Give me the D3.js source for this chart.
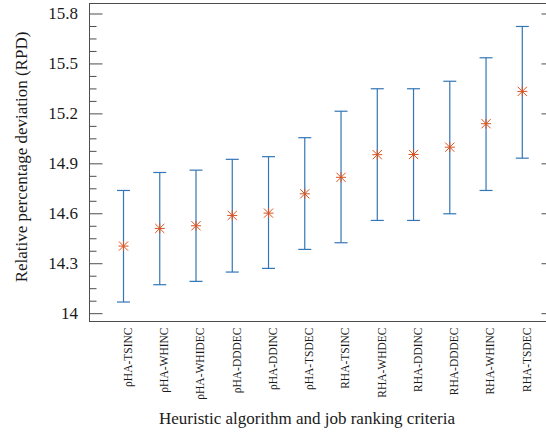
<!DOCTYPE html>
<html>
<head>
<meta charset="utf-8">
<script src="https://cdn.jsdelivr.net/npm/d3@7/dist/d3.min.js"></script>
<style>
  html, body { margin: 0; padding: 0; background: #fff; }
  svg { display: block; }
</style>
</head>
<body>
<svg id="chart" width="546" height="435"></svg>
<script>
// Heuristic / ranking-criterion combinations
const categories = [
  "ρHA-TSINC", "ρHA-WHINC", "ρHA-WHIDEC", "ρHA-DDDEC", "ρHA-DDINC", "ρHA-TSDEC",
  "RHA-TSINC", "RHA-WHDEC", "RHA-DDINC", "RHA-DDDEC", "RHA-WHINC", "RHA-TSDEC"
];
// Mean RPD and the interval bounds for each combination
const means = [14.403, 14.509, 14.525, 14.587, 14.601, 14.717, 14.816, 14.952, 14.953, 14.997, 15.138, 15.332];
const lower = [14.067, 14.171, 14.191, 14.247, 14.269, 14.383, 14.423, 14.557, 14.557, 14.597, 14.737, 14.931];
const upper = [14.737, 14.845, 14.859, 14.924, 14.940, 15.054, 15.213, 15.348, 15.348, 15.393, 15.534, 15.722];
// Y axis
const yTicks = [14, 14.3, 14.6, 14.9, 15.2, 15.5, 15.8];
const yTickLabels = ["14", "14.3", "14.6", "14.9", "15.2", "15.5", "15.8"];
const yMinorStep = 0.075;
const yDomain = [13.95, 15.86];

const FONT = "Liberation Serif";
const svg = d3.select("#chart").attr("font-family", FONT);
const box = { left: 89.5, right: 554.5, top: 3.5, bottom: 321.5 };

const x = d3.scalePoint()
  .domain(categories)
  .range([box.left + 34, box.right - 32.2]);

const y = d3.scaleLinear()
  .domain(yDomain)
  .range([box.bottom, box.top]);

const axisColor = "#4d4d4d";
const textColor = "#1a1a1a";
const barColor = "#3476b6";
const markColor = "#d9531e";

// Minor ticks (every 0.075) on the left and right edges
const minor = d3.range(0, 40).map(k => +(14 + k * yMinorStep).toFixed(3))
  .filter(v => v <= yDomain[1] && !yTicks.some(t => Math.abs(t - v) < 1e-6));

const leftAxis = d3.axisRight(y).tickValues(yTicks).tickSize(13).tickFormat("");
const leftMinor = d3.axisRight(y).tickValues(minor).tickSize(7).tickFormat("");
const rightAxis = d3.axisLeft(y).tickValues(yTicks).tickSize(13).tickFormat("");
const rightMinor = d3.axisLeft(y).tickValues(minor).tickSize(7).tickFormat("");

function styleAxis(g) {
  g.select(".domain").remove();
  g.selectAll(".tick line").attr("stroke", axisColor).attr("stroke-width", 1);
}
svg.append("g").attr("transform", `translate(${box.left},0)`).call(leftAxis).call(styleAxis);
svg.append("g").attr("transform", `translate(${box.left},0)`).call(leftMinor).call(styleAxis);
svg.append("g").attr("transform", `translate(${box.right},0)`).call(rightAxis).call(styleAxis);
svg.append("g").attr("transform", `translate(${box.right},0)`).call(rightMinor).call(styleAxis);

// Frame
svg.append("rect")
  .attr("x", box.left).attr("y", box.top)
  .attr("width", box.right - box.left).attr("height", box.bottom - box.top)
  .attr("fill", "none").attr("stroke", axisColor).attr("stroke-width", 1);

// Y tick labels
svg.append("g").selectAll("text")
  .data(yTicks)
  .join("text")
  .attr("font-family", FONT)
  .attr("fill", textColor)
  .attr("x", 78)
  .attr("y", d => y(d))
  .attr("dy", "0.34em")
  .attr("text-anchor", "end")
  .attr("font-size", 17)
  .text((d, i) => yTickLabels[i]);

// Category labels, rotated
svg.append("g").selectAll("text")
  .data(categories)
  .join("text")
  .attr("font-family", FONT)
  .attr("fill", textColor)
  .attr("transform", d => `translate(${x(d)},${box.bottom + 6}) rotate(-90)`)
  .attr("dy", "0.72em")
  .attr("text-anchor", "end")
  .attr("font-size", 11.5)
  .text(d => d);

// Error bars
const bars = svg.append("g").selectAll("g")
  .data(categories.map((c, i) => ({ c, m: means[i], lo: lower[i], hi: upper[i] })))
  .join("g");

const capHalf = 6.5;
bars.append("line")
  .attr("x1", d => x(d.c)).attr("x2", d => x(d.c))
  .attr("y1", d => y(d.lo)).attr("y2", d => y(d.hi))
  .attr("stroke", barColor).attr("stroke-width", 1.2);
bars.append("line")
  .attr("x1", d => x(d.c) - capHalf).attr("x2", d => x(d.c) + capHalf)
  .attr("y1", d => y(d.hi)).attr("y2", d => y(d.hi))
  .attr("stroke", barColor).attr("stroke-width", 1.2);
bars.append("line")
  .attr("x1", d => x(d.c) - capHalf).attr("x2", d => x(d.c) + capHalf)
  .attr("y1", d => y(d.lo)).attr("y2", d => y(d.lo))
  .attr("stroke", barColor).attr("stroke-width", 1.2);

// Asterisk markers at the means: a cross plus a diagonal cross
const r = 5;
bars.append("path")
  .attr("d", d => {
    const cx = x(d.c), cy = y(d.m), k = 4.6;
    return `M${cx - r},${cy}H${cx + r}M${cx},${cy - r}V${cy + r}` +
           `M${cx - k},${cy - k}L${cx + k},${cy + k}M${cx - k},${cy + k}L${cx + k},${cy - k}`;
  })
  .attr("fill", "none")
  .attr("stroke", markColor)
  .attr("stroke-width", 1);

// Axis titles
svg.append("text")
  .attr("font-family", FONT)
  .attr("fill", textColor)
  .attr("x", 307).attr("y", 424)
  .attr("text-anchor", "middle")
  .attr("font-size", 17)
  .text("Heuristic algorithm and job ranking criteria");

svg.append("text")
  .attr("font-family", FONT)
  .attr("fill", textColor)
  .attr("transform", "translate(27,157) rotate(-90)")
  .attr("text-anchor", "middle")
  .attr("font-size", 17)
  .text("Relative percentage deviation (RPD)");
</script>
</body>
</html>
